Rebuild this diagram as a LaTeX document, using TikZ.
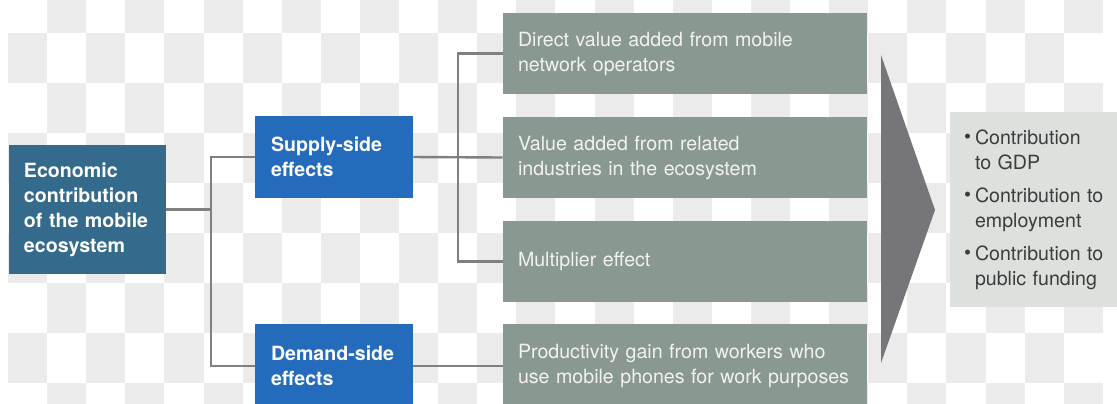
\documentclass[tikz,border=0pt]{standalone}
\usepackage{fontspec}
\setmainfont{TeX Gyre Heros}

\definecolor{ecoblue}{RGB}{52,106,140}
\definecolor{sideblue}{RGB}{36,107,188}
\definecolor{effgrey}{RGB}{138,152,146}
\definecolor{efftext}{RGB}{242,242,238}
\definecolor{arrowgrey}{RGB}{118,118,122}
\definecolor{resfill}{RGB}{221,225,222}
\definecolor{restext}{RGB}{60,60,60}
\definecolor{linkgrey}{RGB}{128,128,128}
\definecolor{checker}{RGB}{235,235,235}

\newcommand{\boxfont}{\fontsize{9.8}{12.5}\selectfont\hyphenpenalty=10000\relax}
\newcommand{\bul}{\makebox[5.5pt][l]{\raisebox{0.2pt}{\fontsize{10}{10}\selectfont\textbullet}}}
\newcommand{\indt}{\hspace*{5.5pt}}

\begin{document}
\begin{tikzpicture}[x=0.5pt,y=-0.5pt]
            \tikzstyle{every node}+=[inner ysep=0pt, align=left, font=\boxfont]
            \tikzstyle{ecobox}=[fill=ecoblue, text=white, font=\boxfont\bfseries,
                inner xsep=7.5pt, text width=63.5pt, minimum height=64.5pt]
            \tikzstyle{sidebox}=[fill=sideblue, text=white, font=\boxfont\bfseries,
                inner xsep=8pt, text width=63pt]
            \tikzstyle{effect}=[fill=effgrey, text=efftext, inner xsep=7.5pt, text width=167pt, minimum height=40.5pt]
            \tikzstyle{resultbox}=[fill=resfill, text=restext, inner xsep=7pt, text width=73.5pt, minimum height=97.5pt]
            \tikzstyle{link}=[draw=linkgrey, line width=1.2pt]
            \useasboundingbox (0,0) rectangle (1117,403);
            \clip (0,0) rectangle (1117,403);
            \fill [white] (0,0) rectangle (1117,403);
            \foreach \i in {0,...,27}
              \foreach \j in {0,...,8} {
                \pgfmathtruncatemacro\odd{mod(\i+\j,2)}
                \ifnum\odd=1
                  \fill [checker] ({8+39.1*\i},{-17+50*\j}) rectangle ++(39.1,50);
                \fi
              }
            \node [ecobox] (econ) at (87.5,209.5) {Economic\\contribution\\of the mobile\\ecosystem};
            \node [sidebox, minimum height=41pt] (supply) at (334,157) {Supply-side\\effects};
            \node [sidebox, minimum height=42.5pt] (demand) at (334,366) {Demand-side\\effects};
            \node [effect] (direct) at (685,53.5) {Direct value added from mobile\\network operators};
            \node [effect] (related) at (685,157.5) {Value added from related\\industries in the ecosystem};
            \node [effect] (multiplier) at (685,261.5) {Multiplier effect};
            \node [effect, minimum height=42.5pt] (productivity) at (685,366) {Productivity gain from workers who\\use mobile phones for work purposes};
            \node [resultbox] (result) at (1037.5,209.5) {\bul Contribution\\\indt to GDP\\[4pt]
                \bul Contribution to\\\indt employment\\[4pt]
                \bul Contribution to\\\indt public funding};
            \coordinate (fork) at (211,209.5);
            \coordinate (branch) at (458,157);
            \draw [link] (econ.east) -- (fork);
            \draw [link] (supply.west) -| (fork) |- (demand.west);
            \draw [link] (supply.east) -- (related.west);
            \draw [link] (direct.west) -| (branch) |- (multiplier.west);
            \draw [link] (demand.east) -- (productivity.west);
            \fill [arrowgrey] (881,55) -- (935,210) -- (881,363) -- cycle;
\end{tikzpicture}
\end{document}
